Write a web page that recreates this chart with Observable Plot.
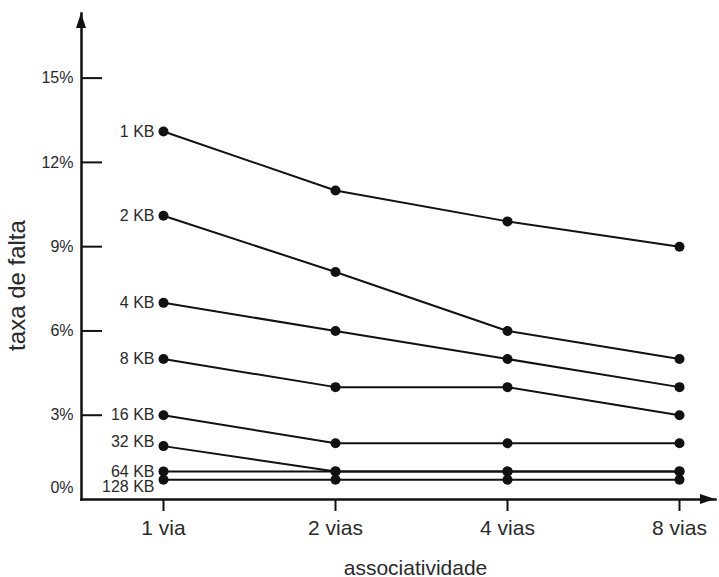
<!DOCTYPE html>
<html><head><meta charset="utf-8">
<script src="https://cdn.jsdelivr.net/npm/d3@7"></script>
<script src="https://cdn.jsdelivr.net/npm/@observablehq/plot@0.6"></script>
<style>
body{margin:0;background:#fff}
svg{font-family:"Liberation Sans",Arial,Helvetica,sans-serif}
</style>
</head><body><div id="chart"></div>
<script>
// categories
const associativity = ["1 via", "2 vias", "4 vias", "8 vias"];
const cacheSizes = ["1 KB", "2 KB", "4 KB", "8 KB", "16 KB", "32 KB", "64 KB", "128 KB"];
// miss rate (%) per cache size, one value per associativity
const rate1KB   = [13.1, 11.0, 9.9, 9.0];
const rate2KB   = [10.1, 8.1, 6.0, 5.0];
const rate4KB   = [7.0, 6.0, 5.0, 4.0];
const rate8KB   = [5.0, 4.0, 4.0, 3.0];
const rate16KB  = [3.0, 2.0, 2.0, 2.0];
const rate32KB  = [1.9, 1.0, 1.0, 1.0];
const rate64KB  = [1.0, 1.0, 1.0, 1.0];
const rate128KB = [0.7, 0.7, 0.7, 0.7];
// tick labels
const yTicks = [3, 6, 9, 12, 15];
const yZeroTick = [0];

const series = [rate1KB, rate2KB, rate4KB, rate8KB, rate16KB, rate32KB, rate64KB, rate128KB];
const rows = [];
series.forEach((vals, s) => vals.forEach((v, i) => rows.push({size: cacheSizes[s], assoc: associativity[i], rate: v})));
const firstCol = rows.filter(d => d.assoc === associativity[0]);

const M = {top: 13, right: 4, bottom: 78, left: 81};
const W = 719, H = 577;
const ink = "#111";
const textInk = "#2a2a2a";

const plot = Plot.plot({
  width: W, height: H,
  marginTop: M.top, marginRight: M.right, marginBottom: M.bottom, marginLeft: M.left,
  style: {background: "white", color: textInk, fontSize: "16px", fontFamily: '"Liberation Sans", Arial, sans-serif'},
  x: {type: "point", domain: associativity, range: [162, 680], padding: 0, align: 0.5},
  y: {domain: [0, 17.3]},
  marks: [
    Plot.frame({anchor: "left", stroke: ink, strokeWidth: 2.5}),
    Plot.frame({anchor: "bottom", stroke: ink, strokeWidth: 2.5}),
    Plot.axisX({tickSize: 12, tickPadding: 9, fontSize: 21, strokeWidth: 2, stroke: ink, label: null}),
    Plot.axisY(yTicks, {tickSize: 0, tickPadding: 8, tickFormat: d => d + "%", fontSize: 16, label: null}),
    Plot.axisY(yTicks, {tickSize: -21, tickFormat: () => "", strokeWidth: 2, stroke: ink, label: null}),
    Plot.axisY(yZeroTick, {tickSize: 0, tickPadding: 8, tickFormat: d => d + "%", fontSize: 16, dy: -12, label: null}),
    Plot.line(rows, {x: "assoc", y: "rate", z: "size", stroke: ink, strokeWidth: 2}),
    Plot.dot(rows, {x: "assoc", y: "rate", r: 5, fill: ink}),
    Plot.text(firstCol.filter(d => d.size !== "32 KB" && d.size !== "128 KB"), {x: "assoc", y: "rate", text: "size", textAnchor: "end", dx: -9, fontSize: 16, fill: textInk}),
    Plot.text(firstCol.filter(d => d.size === "32 KB"), {x: "assoc", y: "rate", text: "size", textAnchor: "end", dx: -9, dy: -4, fontSize: 16, fill: textInk}),
    Plot.text(firstCol.filter(d => d.size === "128 KB"), {x: "assoc", y: "rate", text: "size", textAnchor: "end", dx: -9, dy: 7, fontSize: 16, fill: textInk}),
    Plot.text(["taxa de falta"], {frameAnchor: "left", textAnchor: "middle", lineAnchor: "middle", rotate: -90, dx: -64, dy: 29, fontSize: 24, fill: textInk}),
    Plot.text(["associatividade"], {frameAnchor: "bottom", lineAnchor: "bottom", dx: 17, dy: 75, fontSize: 21, fill: textInk})
  ]
});

// arrowheads at the ends of both axes
const svg = d3.select(plot);
const x0 = M.left, yb = H - M.bottom;
svg.append("path")
  .attr("d", `M${x0},${M.top}L${x0 - 5},${M.top + 15}L${x0 + 5},${M.top + 15}Z`)
  .attr("fill", ink);
svg.append("path")
  .attr("d", `M${W - M.right},${yb}L${W - M.right - 15},${yb - 5}L${W - M.right - 15},${yb + 5}Z`)
  .attr("fill", ink);

document.getElementById("chart").appendChild(plot);
</script>
</body></html>
